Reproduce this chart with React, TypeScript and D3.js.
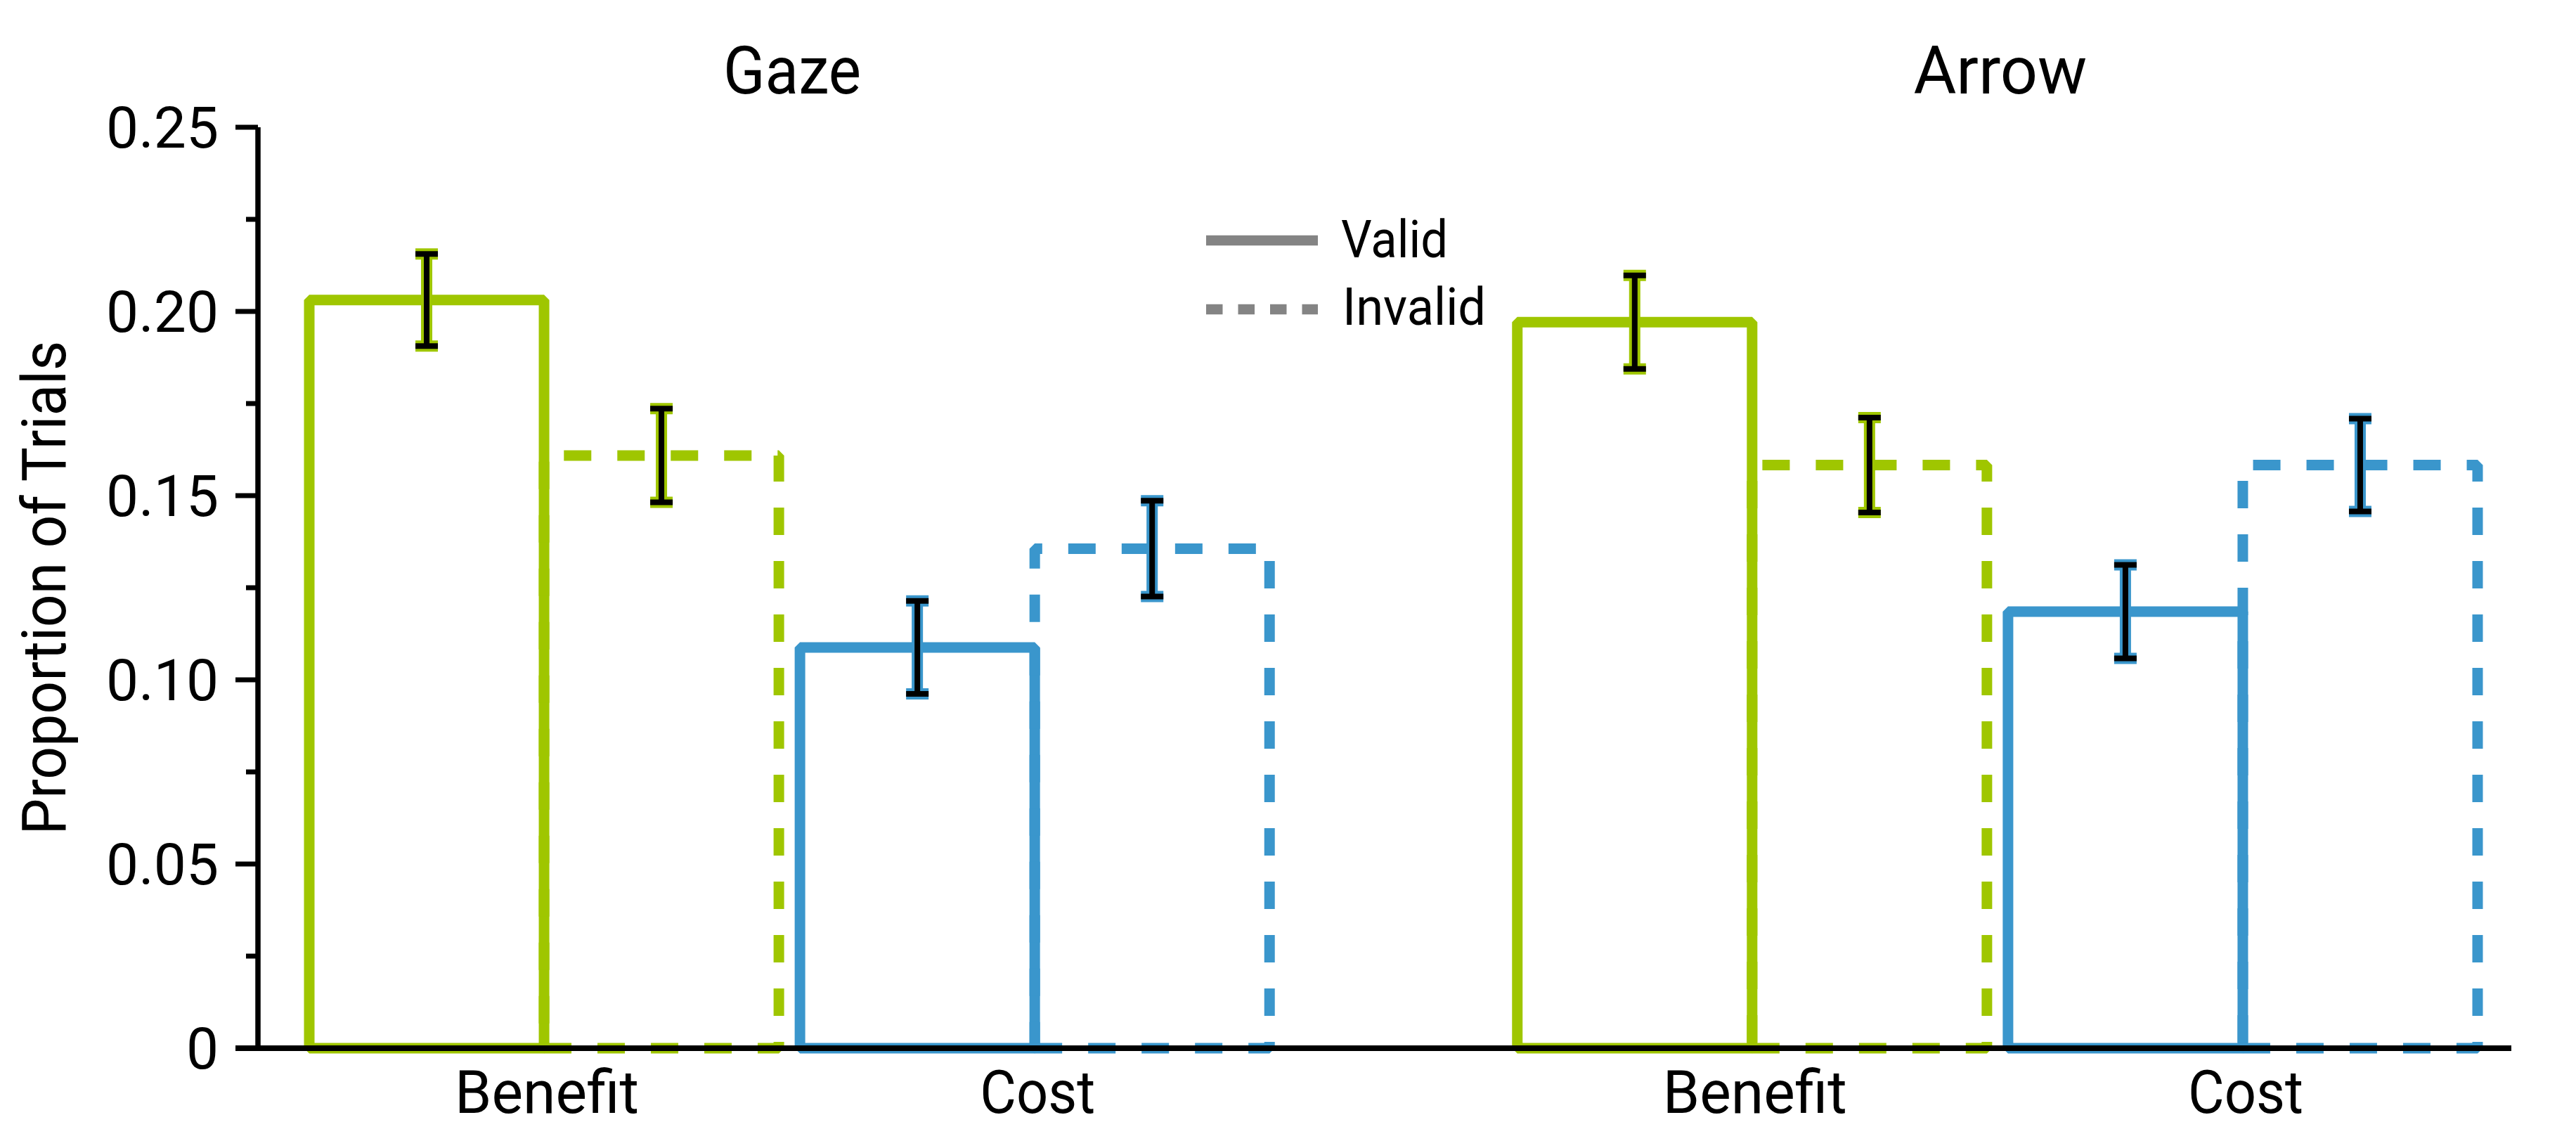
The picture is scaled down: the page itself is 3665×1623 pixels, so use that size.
import React from "react";
import * as d3 from "d3";

const panels = ["Gaze", "Arrow"];
const measures = ["Benefit", "Cost"];
const cueValidity = ["Valid", "Invalid"];
// order: Benefit-Valid, Benefit-Invalid, Cost-Valid, Cost-Invalid
const gazeMeans = [0.2031, 0.1609, 0.1088, 0.1356];
const gazeErrors = [0.0125, 0.0127, 0.0126, 0.013];
const arrowMeans = [0.1971, 0.1583, 0.1185, 0.1583];
const arrowErrors = [0.0127, 0.0129, 0.0127, 0.0126];
const yTicks = [0, 0.05, 0.1, 0.15, 0.2, 0.25];
const yTickLabels = ["0", "0.05", "0.10", "0.15", "0.20", "0.25"];
const yMinorTicks = [0.025, 0.075, 0.125, 0.175, 0.225];

const W = 3665;
const H = 1623;
const GREEN = "#9FC600";
const BLUE = "#3A96CC";
const GREY = "#848484";
const FONT = "Roboto, 'Open Sans', sans-serif";

const measureColor: Record<string, string> = { Benefit: GREEN, Cost: BLUE };

export default function App() {
  const y = d3.scaleLinear().domain([0, 0.25]).range([1491, 181]);
  const xPanel = d3.scaleBand<string>().domain(panels).range([440, 3525]).paddingInner(0.2051).paddingOuter(0);
  const xMeasure = d3.scaleBand<string>().domain(measures).range([0, xPanel.bandwidth()]).paddingInner(0.043).paddingOuter(0);
  const xValid = d3.scaleBand<string>().domain(cueValidity).range([0, xMeasure.bandwidth()]).padding(0);

  const series: Record<string, { means: number[]; errors: number[] }> = {
    Gaze: { means: gazeMeans, errors: gazeErrors },
    Arrow: { means: arrowMeans, errors: arrowErrors },
  };

  const bars: any[] = [];
  panels.forEach((p) => {
    measures.forEach((m, mi) => {
      cueValidity.forEach((v, vi) => {
        const idx = mi * 2 + vi;
        const x0 = (xPanel(p) as number) + (xMeasure(m) as number) + (xValid(v) as number);
        const x1 = x0 + xValid.bandwidth();
        bars.push({
          key: `${p}-${m}-${v}`,
          x0,
          x1,
          value: series[p].means[idx],
          err: series[p].errors[idx],
          color: measureColor[m],
          dashed: v === "Invalid",
        });
      });
    });
  });

  const y0 = y(0);
  const capHalf = 16;
  const axisX = 367;

  return (
    <>
      <style>{`body{margin:0;background:#fff}`}</style>
      <svg width={W} height={H} viewBox={`0 0 ${W} ${H}`} style={{ display: "block", background: "#fff" }}>
        {/* bars */}
        {bars.map((b) => (
          <path
            key={b.key}
            d={`M${b.x0},${y0}H${b.x1}V${y(b.value)}H${b.x0}Z`}
            fill="none"
            stroke={b.color}
            strokeWidth={15}
            strokeLinejoin="bevel"
            strokeDasharray={b.dashed ? "39 37" : undefined}
          />
        ))}
        {/* error bars */}
        {bars.map((b) => {
          const cx = (b.x0 + b.x1) / 2;
          const yt = y(b.value + b.err);
          const yb = y(b.value - b.err);
          return (
            <g key={`e-${b.key}`}>
              <line x1={cx} x2={cx} y1={yt} y2={yb} stroke={b.color} strokeWidth={16} />
              <line x1={cx - capHalf} x2={cx + capHalf} y1={yt} y2={yt} stroke={b.color} strokeWidth={16} />
              <line x1={cx - capHalf} x2={cx + capHalf} y1={yb} y2={yb} stroke={b.color} strokeWidth={16} />
              <line x1={cx} x2={cx} y1={yt} y2={yb} stroke="#000" strokeWidth={8} />
              <line x1={cx - capHalf} x2={cx + capHalf} y1={yt} y2={yt} stroke="#000" strokeWidth={8} />
              <line x1={cx - capHalf} x2={cx + capHalf} y1={yb} y2={yb} stroke="#000" strokeWidth={8} />
            </g>
          );
        })}
        {/* y axis */}
        <line x1={axisX} x2={axisX} y1={y(0.25)} y2={y(0)} stroke="#000" strokeWidth={7.5} />
        {yTicks.map((t, i) => (
          <g key={`t-${t}`}>
            <line x1={335} x2={axisX} y1={y(t)} y2={y(t)} stroke="#000" strokeWidth={7} />
            <text
              x={311}
              y={y(t) + 29}
              textAnchor="end"
              fontFamily={FONT}
              fontSize={82}
              fill="#000"
            >
              {yTickLabels[i]}
            </text>
          </g>
        ))}
        {yMinorTicks.map((t) => (
          <line key={`m-${t}`} x1={350} x2={axisX} y1={y(t)} y2={y(t)} stroke="#000" strokeWidth={7} />
        ))}
        {/* x axis */}
        <line x1={335} x2={3573} y1={y0} y2={y0} stroke="#000" strokeWidth={8} />
        {/* category labels */}
        {panels.map((p) =>
          measures.map((m) => {
            const cx = (xPanel(p) as number) + (xMeasure(m) as number) + xMeasure.bandwidth() / 2;
            return (
              <text
                key={`l-${p}-${m}`}
                x={cx + 4}
                y={1583}
                textAnchor="middle"
                fontFamily={FONT}
                fontSize={86}
                textLength={m === "Benefit" ? 262 : 164}
                lengthAdjust="spacingAndGlyphs"
                fill="#000"
              >
                {m}
              </text>
            );
          })
        )}
        {/* panel titles */}
        {panels.map((p) => (
          <text
            key={`title-${p}`}
            x={(xPanel(p) as number) + xPanel.bandwidth() / 2 + 4}
            y={133}
            textAnchor="middle"
            fontFamily={FONT}
            fontSize={95}
            textLength={p === "Gaze" ? 196 : 247}
            lengthAdjust="spacingAndGlyphs"
            fill="#000"
          >
            {p}
          </text>
        ))}
        {/* y label */}
        <text
          transform={`translate(93,${(y(0) + y(0.25)) / 2}) rotate(-90)`}
          textAnchor="middle"
          fontFamily={FONT}
          fontSize={87}
          textLength={703}
          lengthAdjust="spacingAndGlyphs"
          fill="#000"
        >
          Proportion of Trials
        </text>
        {/* legend */}
        <line x1={1716} x2={1875} y1={342} y2={342} stroke={GREY} strokeWidth={14.7} />
        <line x1={1716} x2={1875} y1={440} y2={440} stroke={GREY} strokeWidth={14.7} strokeDasharray="23.5 22" />
        <text x={1908} y={366} fontFamily={FONT} fontSize={74} textLength={152} lengthAdjust="spacingAndGlyphs" fill="#000">
          {cueValidity[0]}
        </text>
        <text x={1910} y={462} fontFamily={FONT} fontSize={74} textLength={204} lengthAdjust="spacingAndGlyphs" fill="#000">
          {cueValidity[1]}
        </text>
      </svg>
    </>
  );
}
